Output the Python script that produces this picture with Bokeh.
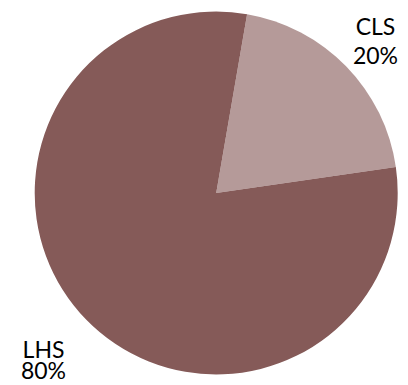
import math
from bokeh.plotting import figure
from bokeh.models import Range1d, ColumnDataSource
from bokeh.core.properties import value
from bokeh.embed import file_html
from bokeh.resources import INLINE

categories = ["CLS", "LHS"]
values = [20, 80]
colors = ["#B59A99", "#855A58"]

W, H = 408, 385
cx, cy, r = 215.7, H - 192.5, 181.5
start_deg = 8.2

total = sum(values)
starts, ends = [], []
a = math.radians(start_deg)
for v in values:
    starts.append(a)
    a += 2 * math.pi * v / total
    ends.append(a)

src = ColumnDataSource(dict(x=[cx] * len(values), y=[cy] * len(values),
                            start=starts, end=ends, color=colors))

p = figure(width=W, height=H, output_backend="svg", toolbar_location=None,
           x_range=Range1d(0, W), y_range=Range1d(0, H), min_border=0)
p.axis.visible = False
p.grid.visible = False
p.outline_line_color = None
p.background_fill_color = "white"
p.border_fill_color = "white"

p.wedge(x="x", y="y", radius=r, start_angle="start", end_angle="end",
        fill_color="color", line_color=None, source=src)

# label positions (layout)
label_x = [375, 43]
label_y_top = [H - 25, H - 348]
label_y_bot = [H - 54, H - 369]
lsrc = ColumnDataSource(dict(
    x=label_x + label_x,
    y=label_y_top + label_y_bot,
    t=categories + [f"{v}%" for v in values]))
p.text(x="x", y="y", text="t", source=lsrc, text_align="center",
       text_baseline="middle", text_font=value("Lato"),
       text_font_size="23px", text_color="#000000")

open("out.html", "w").write(file_html(p, INLINE))
